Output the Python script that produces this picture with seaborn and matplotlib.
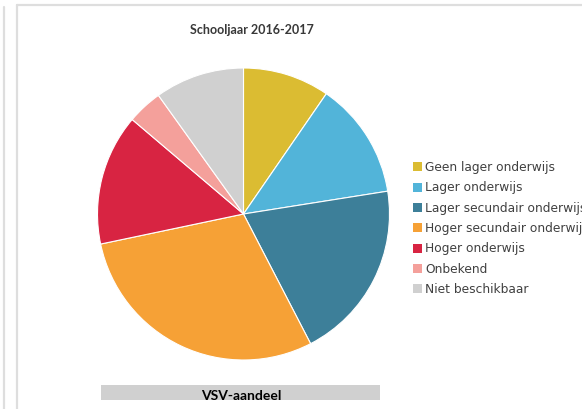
import matplotlib
matplotlib.use("Agg")
import matplotlib.pyplot as plt
import seaborn as sns
from matplotlib.patches import Patch, Rectangle
from matplotlib.lines import Line2D

categories = ["Geen lager onderwijs", "Lager onderwijs", "Lager secundair onderwijs",
              "Hoger secundair onderwijs", "Hoger onderwijs", "Onbekend", "Niet beschikbaar"]
values = [9.6, 12.9, 19.9, 29.3, 14.5, 3.9, 9.9]
colors = ["#DBBC32", "#52B4D9", "#3D7F99", "#F6A136", "#D82442", "#F4A09B", "#D0D0D0"]
title = "Schooljaar 2016-2017"
bottom_label = "VSV-aandeel"

sns.set_theme(style="white")
plt.rcParams['font.family'] = ['Lato', 'DejaVu Sans']

W, H = 582, 409
fig = plt.figure(figsize=(W / 100, H / 100), dpi=100)
fig.patch.set_facecolor("white")

def fx(px):
    return px / W

def fy(py):
    return 1 - py / H

# pie axes
cx, cy, r = 243.5, 214, 146
ax = fig.add_axes([fx(cx - r), fy(cy + r), 2 * r / W, 2 * r / H])
pal = sns.color_palette(colors)
ax.pie(values, colors=pal, startangle=90, counterclock=False, radius=1,
       wedgeprops=dict(edgecolor="white", linewidth=0.8))
ax.set_xlim(-1, 1)
ax.set_ylim(-1, 1)
ax.axis("off")

# frame lines
lc = "#DEDEDE"
fig.add_artist(Line2D([fx(3.5), fx(3.5)], [fy(7), fy(409)], color=lc, lw=1.6))
fig.add_artist(Line2D([fx(16.5), fx(16.5)], [fy(5), fy(409)], color=lc, lw=1.6))
fig.add_artist(Line2D([fx(16.5), fx(582)], [fy(5), fy(5)], color=lc, lw=1.6))

# title
fig.text(fx(252), fy(30), title, ha="center", va="center", fontsize=9,
         fontweight="bold", color="#383838")

# legend
handles = [Patch(facecolor=c, edgecolor="none") for c in pal]
leg = fig.legend(handles, categories, loc="upper left",
                 bbox_to_anchor=(fx(413), fy(161)), frameon=False,
                 handlelength=0.75, handleheight=0.75, handletextpad=0.25,
                 labelspacing=0.6, borderpad=0, borderaxespad=0,
                 prop={"family": ["DejaVu Sans"], "size": 8.8})
for t in leg.get_texts():
    t.set_color("#404040")

# bottom bar
rect = Rectangle((fx(101), fy(400)), fx(380) - fx(101), fy(385) - fy(400),
                 transform=fig.transFigure, facecolor="#D0D0D0", edgecolor="none")
fig.add_artist(rect)
bt = fig.text(fx(241), fy(400), bottom_label, ha="center", va="baseline", fontsize=10,
              fontweight="bold", color="black")
bt.set_clip_path(rect)

fig.savefig("out.png", dpi=100, facecolor="white")
